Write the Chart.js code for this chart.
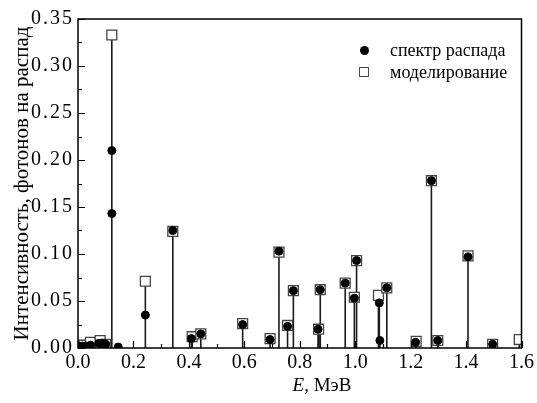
<!DOCTYPE html>
<html>
<head>
<meta charset="utf-8">
<script src="https://cdn.jsdelivr.net/npm/chart.js@4/dist/chart.umd.min.js"></script>
<style>
  html,body{margin:0;padding:0;background:#fff;}
  #wrap{position:relative;width:537px;height:403px;}
  #c{position:absolute;left:0;top:0;}
  .lg{position:absolute;font-family:'Liberation Serif';font-size:18px;color:#000;line-height:20px;white-space:nowrap;}
  .mk{position:absolute;box-sizing:border-box;}
  #xt{position:absolute;font-family:'Liberation Serif';font-size:19px;color:#000;white-space:nowrap;transform:translateX(-50%);}
</style>
</head>
<body>
<div id="wrap">
  <canvas id="c" width="537" height="403"></canvas>
  <div class="mk" style="left:359.5px;top:45.5px;width:9px;height:9px;border-radius:50%;background:#000;"></div>
  <div class="lg" style="left:390px;top:40px;">спектр распада</div>
  <div class="mk" style="left:359px;top:67px;width:10px;height:10px;border:1.3px solid #444;background:#fff;"></div>
  <div class="lg" style="left:390px;top:62px;">моделирование</div>
  <div id="xt" style="left:322px;top:374px;"><i>E</i>, МэВ</div>
</div>
<script>
// Spectrum of decay (filled circles)
const specE = [0.005, 0.015, 0.03, 0.045, 0.075, 0.09, 0.1, 0.122, 0.122, 0.145, 0.243, 0.342, 0.409, 0.443, 0.594, 0.693, 0.725, 0.756, 0.777, 0.866, 0.874, 0.964, 0.997, 1.005, 1.087, 1.089, 1.114, 1.218, 1.275, 1.298, 1.407, 1.496];
const specI = [0.002, 0.002, 0.002, 0.003, 0.005, 0.005, 0.004, 0.21, 0.143, 0.001, 0.035, 0.125, 0.010, 0.015, 0.025, 0.009, 0.103, 0.023, 0.061, 0.020, 0.062, 0.069, 0.053, 0.093, 0.048, 0.008, 0.064, 0.006, 0.178, 0.008, 0.097, 0.004];
// Modelling (open squares)
const modE = [0.02, 0.045, 0.08, 0.1, 0.122, 0.243, 0.342, 0.412, 0.443, 0.594, 0.693, 0.725, 0.756, 0.777, 0.868, 0.874, 0.964, 0.997, 1.005, 1.084, 1.114, 1.220, 1.275, 1.298, 1.407, 1.496, 1.592];
const modI = [0.003, 0.006, 0.008, 0.004, 0.333, 0.071, 0.124, 0.012, 0.015, 0.026, 0.010, 0.102, 0.024, 0.061, 0.020, 0.062, 0.069, 0.054, 0.093, 0.056, 0.064, 0.007, 0.178, 0.008, 0.098, 0.004, 0.009];
// Axis ticks
const xTicks = [0.0, 0.2, 0.4, 0.6, 0.8, 1.0, 1.2, 1.4, 1.6];
const yTicks = [0.00, 0.05, 0.10, 0.15, 0.20, 0.25, 0.30, 0.35];
const xMinorTicks = [0.1, 0.3, 0.5, 0.7, 0.9, 1.1, 1.3, 1.5];
const yMinorTicks = [0.025, 0.075, 0.125, 0.175, 0.225, 0.275, 0.325];

const specPts = specE.map((e, i) => ({x: e, y: specI[i]}));
const modPts = modE.map((e, i) => ({x: e, y: modI[i]}));
const stemPts = [];
specPts.concat(modPts).forEach(p => { stemPts.push({x: p.x, y: 0}, {x: p.x, y: p.y}, {x: p.x, y: null}); });

const serif = "'Liberation Serif'";

const frameTicks = {
  id: 'frameTicks',
  afterDraw(chart) {
    const ctx = chart.ctx, a = chart.chartArea;
    const xs = chart.scales.x, ys = chart.scales.y;
    ctx.save();
    ctx.strokeStyle = '#000';
    ctx.lineWidth = 1.2;
    ctx.beginPath();
    xTicks.forEach(v => { const px = Math.round(xs.getPixelForValue(v)) + 0.5; ctx.moveTo(px, a.bottom); ctx.lineTo(px, a.bottom - 7); });
    xMinorTicks.forEach(v => { const px = Math.round(xs.getPixelForValue(v)) + 0.5; ctx.moveTo(px, a.bottom); ctx.lineTo(px, a.bottom - 4); });
    yTicks.forEach(v => { const py = Math.round(ys.getPixelForValue(v)) + 0.5; ctx.moveTo(a.left, py); ctx.lineTo(a.left + 7, py); });
    yMinorTicks.forEach(v => { const py = Math.round(ys.getPixelForValue(v)) + 0.5; ctx.moveTo(a.left, py); ctx.lineTo(a.left + 4, py); });
    ctx.stroke();
    ctx.lineWidth = 1.5;
    ctx.strokeRect(a.left, a.top, a.right - a.left, a.bottom - a.top);
    ctx.restore();
  }
};

function widenYLabels(s) {
  if (s._wrapped) return;
  s._wrapped = true;
  const orig = s.drawLabels;
  s.drawLabels = function (area) {
    const c = this.ctx;
    c.save();
    if ('letterSpacing' in c) c.letterSpacing = '2px';
    orig.call(this, area);
    c.restore();
  };
}

new Chart(document.getElementById('c'), {
  type: 'scatter',
  data: {
    datasets: [
      {label: 'спектр распада', data: specPts, pointStyle: 'circle', pointRadius: 4, pointHoverRadius: 4, backgroundColor: '#000', borderColor: '#000', borderWidth: 1, order: 0},
      {label: 'моделирование', data: modPts, pointStyle: 'rect', pointRadius: 7, pointHoverRadius: 7, backgroundColor: '#fff', borderColor: '#444', borderWidth: 1.3, order: 1},
      {label: 'stems', type: 'line', data: stemPts, showLine: true, spanGaps: false, pointRadius: 0, borderColor: '#1a1a1a', borderWidth: 1.6, fill: false, order: 2}
    ]
  },
  options: {
    responsive: false,
    animation: false,
    devicePixelRatio: 1,
    layout: {padding: {top: 19, right: 11, left: 0, bottom: 0}},
    plugins: {legend: {display: false}, tooltip: {enabled: false}},
    scales: {
      x: {
        type: 'linear', min: 0, max: 1.6,
        afterBuildTicks: s => { s.ticks = xTicks.map(v => ({value: v})); },
        afterFit: s => { s.height = 55; },
        grid: {display: false, drawTicks: false},
        border: {display: false},
        ticks: {padding: 3, color: '#000', font: {family: serif, size: 20}, maxRotation: 0, autoSkip: false, callback: v => Number(v).toFixed(1)}
      },
      y: {
        type: 'linear', min: 0, max: 0.35,
        afterBuildTicks: s => { s.ticks = yTicks.map(v => ({value: v})); },
        afterFit: s => { s.width = 78; widenYLabels(s); },
        grid: {display: false, drawTicks: false},
        border: {display: false},
        ticks: {padding: 4, color: '#000', font: {family: serif, size: 20}, autoSkip: false, callback: v => Number(v).toFixed(2)},
        title: {display: true, text: 'Интенсивность, фотонов на распад', color: '#000', font: {family: serif, size: 21}, padding: {top: 9.5, bottom: 0}}
      }
    }
  },
  plugins: [frameTicks]
});
</script>
</body>
</html>
